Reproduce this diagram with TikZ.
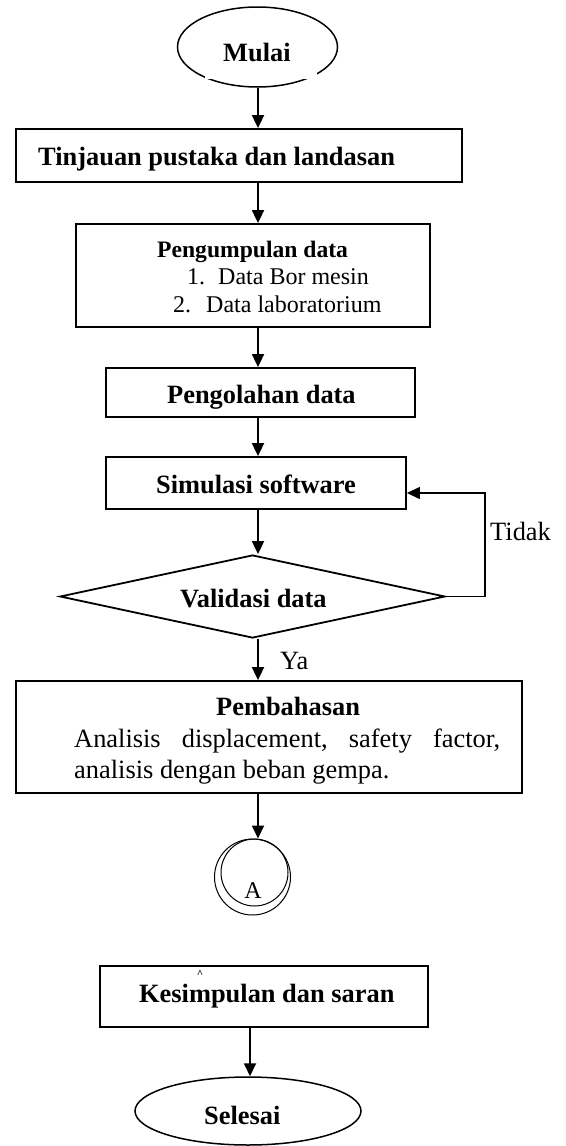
\documentclass[tikz,border=0pt]{standalone}
\usepackage{fontspec}
\setmainfont{Liberation Serif}
\usetikzlibrary{shapes.geometric,arrows.meta}
\begin{document}
\begin{tikzpicture}[x=1pt,y=-1pt,
  bx/.style={draw, line width=1.8pt, inner sep=0, rectangle},
  arr/.style={line width=1.8pt, -{Triangle[width=12pt,length=13pt]}},
  txt/.style={inner sep=0, anchor=base west, font=\fontsize{26.4}{30}\selectfont},
  btxt/.style={inner sep=0, anchor=base west, font=\fontsize{26.4}{30}\selectfont\bfseries},
  stxt/.style={inner sep=0, anchor=base west, font=\fontsize{24}{28}\selectfont},
  sbtxt/.style={inner sep=0, anchor=base west, font=\fontsize{23.6}{28}\selectfont\bfseries},
]
\useasboundingbox (0,0) rectangle (565,1146);
\coordinate (ax) at (258,0);
\coordinate (bx) at (250,0);
\coordinate (lp) at (485,493);

% shapes
\node[draw, ellipse, line width=1.5pt, inner sep=0, minimum width=160, minimum height=80] (mulai) at (257.5,47) {};
\fill[white] (205,73) rectangle (317,78.5);
\node[bx, minimum width=446, minimum height=53] (tinj) at (239,155.5) {};
\node[bx, minimum width=354, minimum height=103] (peng) at (253,275.5) {};
\node[bx, minimum width=309, minimum height=49] (olah) at (260.5,392.5) {};
\node[bx, minimum width=300, minimum height=52] (simu) at (256,483) {};
\node[draw, diamond, line width=1.8pt, inner sep=0, minimum width=385, minimum height=83] (vali) at (252.5,596.5) {};
\node[bx, minimum width=506, minimum height=112] (bahas) at (269,737) {};
\node[draw, circle, line width=1pt, inner sep=0, minimum size=76] (ca) at (252.5,877) {};
\node[draw, circle, line width=1pt, inner sep=0, minimum size=67] (cb) at (254.5,872.5) {};
\node[bx, minimum width=328, minimum height=61] (kesim) at (264,996.5) {};
\node[draw, ellipse, line width=1.5pt, inner sep=0, minimum width=226, minimum height=68] (selesai) at (248,1111) {};

% texts
\node[btxt] (tmulai) at (223,61) {Mulai};
\node[btxt] (ttinj) at (38,165) {Tinjauan pustaka dan landasan};
\node[sbtxt] (tpeng) at (157,257) {Pengumpulan data};
\node[stxt] (tp1n) at (187,284) {1.};
\node[stxt] (tp1) at (218,284) {Data Bor mesin};
\node[stxt] (tp2n) at (173,312) {2.};
\node[stxt] (tp2) at (206,312) {Data laboratorium};
\node[btxt] (tolah) at (167,403) {Pengolahan data};
\node[btxt] (tsimu) at (156,493) {Simulasi software};
\node[btxt] (tvali) at (180,607) {Validasi data};
\node[txt] (ttidak) at (490,540) {Tidak};
\node[txt] (tya) at (280,669) {Ya};
\node[btxt] (tbahas) at (216,715) {Pembahasan};
\node[txt] (tb1) at (74,747) {\hbox to 426pt{Analisis\hfill displacement,\hfill safety\hfill factor,}};
\node[txt] (tb2) at (74,778) {analisis dengan beban gempa.};
\node[stxt, anchor=base] (ta) at (253,898) {A};
\node[inner sep=0, font=\fontsize{11}{11}\selectfont\bfseries] (caret) at (200,974) {\^{}};
\node[btxt] (tkesim) at (139,1002) {Kesimpulan dan saran};
\node[btxt] (tsel) at (204,1124) {Selesai};

% connectors
\draw[arr] (mulai.south -| ax) -- (tinj.north -| ax);
\draw[arr] (tinj.south -| ax) -- (peng.north -| ax);
\draw[arr] (peng.south -| ax) -- (olah.north -| ax);
\draw[arr] (olah.south -| ax) -- (simu.north -| ax);
\draw[arr] (simu.south -| ax) -- (vali.north -| ax);
\draw[arr] (vali.south -| ax) -- (bahas.north -| ax);
\draw[arr] (bahas.south -| ax) -- (ca.north -| ax);
\draw[arr] (kesim.south -| bx) -- (selesai.north -| bx);
\draw[line width=1.2pt, -{Triangle[width=12pt,length=13pt]}] (vali.east) -| (lp) -- (simu.east |- lp);
\end{tikzpicture}
\end{document}
